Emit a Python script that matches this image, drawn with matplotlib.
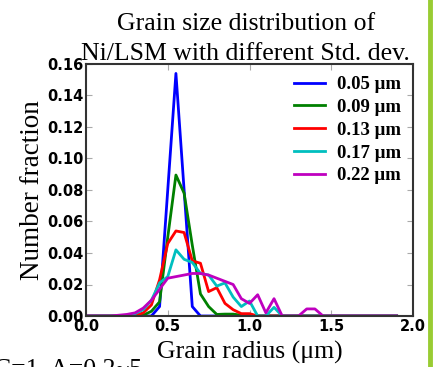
import matplotlib
matplotlib.use("Agg")
import matplotlib.pyplot as plt
from matplotlib.lines import Line2D

radius = [0.00, 0.05, 0.10, 0.15, 0.20, 0.25, 0.30, 0.35, 0.40, 0.45,
          0.50, 0.55, 0.60, 0.65, 0.70, 0.75, 0.80, 0.85, 0.90, 0.95,
          1.00, 1.05, 1.10, 1.15, 1.20, 1.25, 1.30, 1.35, 1.40, 1.45,
          1.50, 1.55, 1.60, 1.65, 1.70, 1.75, 1.80, 1.85, 1.90]

sd_005 = [0, 0, 0, 0, 0, 0, 0, 0, 0, 0.006,
          0.080, 0.154, 0.080, 0.006, 0, 0, 0, 0, 0, 0,
          0, 0, 0, 0, 0, 0, 0, 0, 0, 0,
          0, 0, 0, 0, 0, 0, 0, 0, 0]
sd_009 = [0, 0, 0, 0, 0, 0, 0, 0.0005, 0.003, 0.009,
          0.050, 0.0895, 0.078, 0.045, 0.014, 0.006, 0.001, 0.0012, 0.0012, 0.0005,
          0, 0, 0, 0, 0, 0, 0, 0, 0, 0,
          0, 0, 0, 0, 0, 0, 0, 0, 0]
sd_013 = [0, 0, 0, 0, 0, 0, 0.0005, 0.002, 0.007, 0.023,
          0.046, 0.054, 0.053, 0.035, 0.0335, 0.0155, 0.018, 0.008, 0.004, 0.0015,
          0.0015, 0, 0, 0, 0, 0, 0, 0, 0, 0,
          0, 0, 0, 0, 0, 0, 0, 0, 0]
sd_017 = [0, 0, 0, 0, 0, 0.0005, 0.0015, 0.004, 0.010, 0.021,
          0.025, 0.042, 0.036, 0.034, 0.027, 0.026, 0.019, 0.021, 0.012, 0.006,
          0.0095, 0, 0, 0.0055, 0, 0, 0, 0, 0, 0,
          0, 0, 0, 0, 0, 0, 0, 0, 0]
sd_022 = [0, 0, 0, 0, 0.0005, 0.001, 0.002, 0.005, 0.010, 0.017,
          0.024, 0.025, 0.026, 0.027, 0.027, 0.026, 0.024, 0.022, 0.020, 0.011,
          0.008, 0.0135, 0.002, 0.011, 0, 0, 0, 0.0045, 0.0045, 0,
          0, 0, 0, 0, 0, 0, 0, 0, 0]

series = [sd_005, sd_009, sd_013, sd_017, sd_022]
labels = ["0.05 \u03bcm", "0.09 \u03bcm", "0.13 \u03bcm", "0.17 \u03bcm", "0.22 \u03bcm"]
colors = ["#0000ff", "#008000", "#ff0000", "#00bfbf", "#bf00bf"]

xticks = [0.0, 0.5, 1.0, 1.5, 2.0]
yticks = [0.00, 0.02, 0.04, 0.06, 0.08, 0.10, 0.12, 0.14, 0.16]

fig = plt.figure(figsize=(4.33, 3.67), dpi=100)
ax = fig.add_axes([86/433, 51/367, 327/433, 252/367])

for ys, lab, c in zip(series, labels, colors):
    ax.plot(radius, ys, color=c, lw=2.0, label=lab)

ax.set_xlim(0, 2.0)
ax.set_ylim(0, 0.16)
ax.set_xticks(xticks)
ax.set_yticks(yticks)
ax.set_xticklabels([f"{v:.1f}" for v in xticks], fontweight="bold", fontsize=10.5)
ax.set_yticklabels([f"{v:.2f}" for v in yticks], fontweight="bold", fontsize=10.5)
ax.tick_params(direction="in", top=True, right=True, length=4, color="#aaaaaa",
               pad=2)
for s in ax.spines.values():
    s.set_color("#333333")
    s.set_linewidth(1.5)

serif = "Liberation Serif"
ax.set_title("Grain size distribution of\nNi/LSM with different Std. dev.",
             family=serif, fontsize=18.5, pad=3, linespacing=1.45, x=0.488)
ax.set_xlabel("Grain radius (\u03bcm)", family=serif, fontsize=18.5, labelpad=5)
ax.set_ylabel("Number fraction", family=serif, fontsize=19.5, labelpad=1)

leg = ax.legend(loc="upper right", frameon=False, handlelength=1.7,
                prop={"family": serif, "weight": "bold", "size": 13.5},
                labelspacing=0.3, borderaxespad=0.25, handletextpad=0.6)

fig.text(-6/433, 1 - 358/367, "C=1, A=0.2~5", family=serif, fontsize=18.5,
         ha="left", va="top")

fig.add_artist(Line2D([429.5/433, 429.5/433], [0, 1], color="#99cc33", lw=3.5,
                      transform=fig.transFigure))

fig.savefig("out.png", dpi=100)
